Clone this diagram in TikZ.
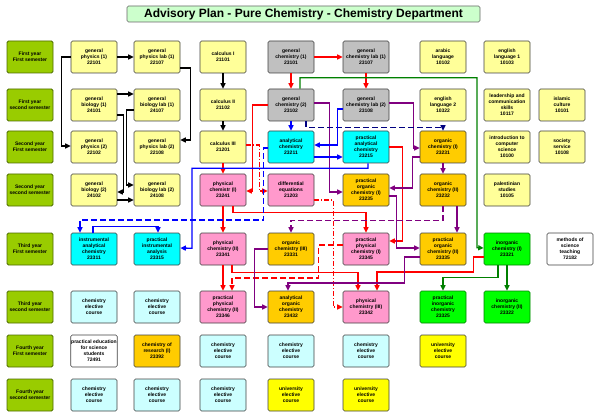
\documentclass[tikz,border=0pt]{standalone}
\usepackage{fontspec}
\setmainfont{Liberation Sans}
\usetikzlibrary{arrows.meta}
\definecolor{semgreen}{HTML}{99CC00}
\definecolor{semdark}{HTML}{4D6B00}
\definecolor{paleyellow}{HTML}{FFFF99}
\definecolor{chemgray}{HTML}{C0C0C0}
\definecolor{analcyan}{HTML}{00FFFF}
\definecolor{orgorange}{HTML}{FFCC00}
\definecolor{physpink}{HTML}{FF99CC}
\definecolor{inorggreen}{HTML}{00FF00}
\definecolor{eleccyan}{HTML}{CCFFFF}
\definecolor{univyellow}{HTML}{FFFF00}
\definecolor{titlegreen}{HTML}{CCFFCC}
\definecolor{linepurple}{HTML}{800080}
\definecolor{linenavy}{HTML}{000080}
\definecolor{lineblue}{HTML}{0000FF}
\definecolor{linegreen}{HTML}{008000}

\begin{document}
\begin{tikzpicture}[x=1pt,y=-1pt,>={Triangle[length=5.5pt,width=5pt]},
	box/.style={draw=black!75,line width=0.6pt,rounded corners=1.5pt,minimum width=46pt,minimum height=32pt,inner sep=0.5pt,align=center,font=\fontsize{5}{6}\selectfont\bfseries},
	sem/.style={box,fill=semgreen,draw=semdark,line width=0.9pt},
	genbox/.style={box,fill=paleyellow},
	chembox/.style={box,fill=chemgray},
	analbox/.style={box,fill=analcyan},
	orgbox/.style={box,fill=orgorange},
	physbox/.style={box,fill=physpink},
	inorgbox/.style={box,fill=inorggreen,draw=linegreen},
	elecbox/.style={box,fill=eleccyan},
	univbox/.style={box,fill=univyellow},
	plainbox/.style={box,fill=white},
	titlebox/.style={draw=black!60,line width=0.6pt,rounded corners=1.5pt,fill=titlegreen,minimum width=353pt,minimum height=16pt,inner sep=0pt,font=\fontsize{12}{12}\selectfont\bfseries},
	link/.style={->,line width=1.35pt},
	kline/.style={link,black},
	rline/.style={link,red},
	pline/.style={link,linepurple},
	bline/.style={link,lineblue},
	nline/.style={link,linenavy},
	gline/.style={link,linegreen},
	dashline/.style={dash pattern=on 6pt off 3pt},
	dotdash/.style={dash pattern=on 5pt off 2pt on 1pt off 2pt}]
\useasboundingbox (0,0) rectangle (600,417);
\node[titlebox] (title) at (303.5,14) {Advisory Plan - Pure Chemistry - Chemistry Department};
% semesters
\node[sem] (s1) at (30,57) {First year\\First semester};
\node[sem] (s2) at (30,105) {First year\\second semester};
\node[sem] (s3) at (30,147) {Second year\\First semester};
\node[sem] (s4) at (30,190) {Second year\\second semester};
\node[sem] (s5) at (30,249) {Third year\\First semester};
\node[sem] (s6) at (30,307) {Third year\\second semester};
\node[sem] (s7) at (30,351) {Fourth year\\First semester};
\node[sem] (s8) at (30,395) {Fourth year\\second semester};
% first year
\node[genbox] (phys1) at (94,57) {general\\physics (1)\\22101};
\node[genbox] (physlab1) at (157,57) {general\\physics lab (1)\\22107};
\node[genbox] (calc1) at (223,57) {calculus I\\21101};
\node[chembox] (chem1) at (291,57) {general\\chemistry (1)\\23101};
\node[chembox] (chemlab1) at (366,57) {general\\chemistry lab (1)\\23107};
\node[genbox] (arab) at (443,57) {arabic\\language\\10102};
\node[genbox] (eng1) at (507,57) {english\\language 1\\10103};
\node[genbox] (bio1) at (94,105) {general\\biology (1)\\24101};
\node[genbox] (biolab1) at (157,105) {general\\biology lab (1)\\24107};
\node[genbox] (calc2) at (223,105) {calculus II\\21102};
\node[chembox] (chem2) at (291,105) {general\\chemistry (2)\\23102};
\node[chembox] (chemlab2) at (366,105) {general\\chemistry lab (2)\\23108};
\node[genbox] (eng2) at (443,105) {english\\language 2\\10322};
\node[genbox] (lead) at (507,105) {leadership and\\communication\\skills\\10117};
\node[genbox] (islam) at (562,105) {islamic\\culture\\10101};
% second year
\node[genbox] (phys2) at (94,147) {general\\physics (2)\\22102};
\node[genbox] (physlab2) at (157,147) {general\\physics lab (2)\\22108};
\node[genbox] (calc3) at (223,147) {calculus III\\21201};
\node[analbox] (anal) at (291,147) {analytical\\chemistry\\23211};
\node[analbox] (pranal) at (366,147) {practical\\analytical\\chemistry\\23215};
\node[orgbox] (org1) at (443,147) {organic\\chemistry (I)\\23231};
\node[genbox] (comp) at (507,147) {introduction to\\computer\\science\\10100};
\node[genbox] (soc) at (562,147) {society\\service\\10108};
\node[genbox] (bio2) at (94,190) {general\\biology (2)\\24102};
\node[genbox] (biolab2) at (157,190) {general\\biology lab (2)\\24108};
\node[physbox] (pchem1) at (223,190) {physical\\chemistr (I)\\23241};
\node[physbox] (diffeq) at (291,190) {differential\\equations\\21203};
\node[orgbox] (prorg1) at (366,190) {practical\\organic\\chemistry (I)\\23235};
\node[orgbox] (org2) at (443,190) {organic\\chemistry (II)\\23232};
\node[genbox] (pal) at (507,190) {palestinian\\studies\\10105};
% third year
\node[analbox] (instr) at (94,249) {instrumental\\analytical\\chemistry\\23311};
\node[analbox] (pinstr) at (157,249) {practical\\instrumental\\analysis\\23315};
\node[physbox] (pchem2) at (223,249) {physical\\chemistry (II)\\23341};
\node[orgbox] (org3) at (291,249) {organic\\chemistry (III)\\23331};
\node[physbox] (ppchem1) at (366,249) {practical\\physical\\chemistry (I)\\23345};
\node[orgbox] (prorg2) at (443,249) {practical\\organic\\chemistry (II)\\23335};
\node[inorgbox] (inorg1) at (507,249) {inorganic\\chemistry (I)\\23321};
\node[plainbox] (teach) at (570,249) {methods of\\science\\teaching\\72182};
\node[elecbox] (elec1) at (94,307) {chemistry\\elective\\course};
\node[elecbox] (elec2) at (157,307) {chemistry\\elective\\course};
\node[physbox] (ppchem2) at (223,307) {practical\\physical\\chemistry (II)\\23346};
\node[orgbox] (anorg) at (291,307) {analytical\\organic\\chemistry\\23432};
\node[physbox] (pchem3) at (366,307) {physical\\chemistry (III)\\23342};
\node[inorgbox] (prinorg) at (443,307) {practical\\inorganic\\chemistry\\23325};
\node[inorgbox] (inorg2) at (507,307) {inorganic\\chemistry (II)\\23322};
% fourth year
\node[plainbox] (pedu) at (94,351) {practical education\\for science\\students\\72491};
\node[orgbox] (res) at (157,351) {chemistry of\\research (I)\\23392};
\node[elecbox] (elec3) at (223,351) {chemistry\\elective\\course};
\node[elecbox] (elec4) at (291,351) {chemistry\\elective\\course};
\node[elecbox] (elec5) at (366,351) {chemistry\\elective\\course};
\node[univbox] (univ1) at (443,351) {university\\elective\\course};
\node[elecbox] (elec6) at (94,395) {chemistry\\elective\\course};
\node[elecbox] (elec7) at (157,395) {chemistry\\elective\\course};
\node[elecbox] (elec8) at (223,395) {chemistry\\elective\\course};
\node[univbox] (univ2) at (291,395) {university\\elective\\course};
\node[univbox] (univ3) at (366,395) {university\\elective\\course};
% physics, biology, maths
\draw[kline] (phys1) -- (physlab1);
\draw[kline] (phys1.west) -- ++(-9,0) |- ([yshift=1pt]phys2.west);
\draw[kline] ([yshift=-11pt]physlab1.east) -- ++(10,0) |- ([yshift=7pt]physlab2.east);
\draw[kline] ([yshift=11pt]bio1.east) -- ([yshift=11pt]biolab1.west);
\draw[kline] ([yshift=-10pt]bio1.east) -- ++(6,0) |- ([yshift=-2pt]bio2.east);
\draw[kline] ([yshift=-5pt]biolab1.west) -- ++(-7,0) |- ([yshift=5pt]biolab2.west);
\draw[kline] ([yshift=-10pt]bio2.east) -- ([yshift=-10pt]biolab2.west);
\draw[kline] (calc1) -- (calc2);
\draw[kline] (calc2) -- (calc3);
% general and physical chemistry
\draw[rline] (chem1) -- (chemlab1);
\draw[rline] (chem1) -- (chem2);
\draw[rline] (chemlab1) -- (chemlab2);
\draw[rline] (chem2.west) -- ++(-15,0) |- ([yshift=-1pt]pchem1.east);
\draw[rline] (calc3) -- (pchem1);
\draw[rline,dotdash] ([yshift=2pt]calc3.east) -- ++(13,0) |- ([yshift=-1pt]diffeq.west);
\draw[rline] (pchem1) -- (pchem2);
\draw[rline] ([xshift=10pt]pchem1.south) -- ++(0,6) -| (ppchem1.north);
\draw[rline] (pchem2) -- (ppchem2);
\draw[rline] ([xshift=9pt]pchem2.south) -- ++(0,7) -| ([xshift=-8pt]pchem3.north);
\draw[rline,dashline] ([yshift=4pt]ppchem1.west) -| ++(-24,33) -| ([xshift=9pt]ppchem2.north);
\draw[rline,dotdash] ([yshift=-10pt]diffeq.east) -- ++(19,0) |- (pchem3.west);
\draw[rline] (pranal.east) -- ++(13,0) |- ([yshift=8pt]ppchem1.east);
\draw[rline] ([yshift=-8pt]inorg1.west) -| ++(-10,15) -| ([xshift=11pt]pchem3.north);
% organic
\draw[pline] ([yshift=2pt]chem2.east) -- ++(15,0) |- ([yshift=-2pt]prorg1.west);
\draw[pline] ([yshift=2pt]chemlab2.east) -- ++(24,0) |- ([yshift=-1pt]org1.west);
\draw[pline] ([yshift=-10pt]org1.west) -- ++(-7,0) |- ([yshift=2pt]prorg1.east);
\draw[pline] ([yshift=-6pt]prorg1.east) -- ++(7,0) |- ([yshift=1pt]prorg2.west);
\draw[pline] (org1) -- (org2);
\draw[pline] ([xshift=14pt]org2.south) -- ([xshift=14pt]prorg2.north);
\draw[pline,dashline] (org2.south) -- ++(0,14) -| (org3.north);
\draw[pline] ([yshift=-8pt]prorg2.west) -| ++(-15,26) -| ([xshift=-3pt]anorg.north);
\draw[pline] (org3.west) -- ++(-13,0) |- (anorg.west);
\draw[nline,dashline] ([xshift=15pt]chem2.south) -- ++(0,6) -| (org1.north);
% analytical
\draw[bline] (chem2) -- (anal);
\draw[bline] ([yshift=-4pt]chemlab2.west) -- ++(-5,0) |- ([yshift=2pt]anal.east);
\draw[bline] ([yshift=-10pt]anal.east) -- ([yshift=-10pt]pranal.west);
\draw[bline] ([xshift=2pt]pranal.south) -- ++(0,5) -| ++(-176,80) -- ([yshift=1pt]pinstr.east);
\draw[bline,dashline] ([yshift=-1pt]anal.west) -- ++(-4,0) -- ++(0,72) -| ([xshift=-14pt]instr.north);
\draw[bline] ([xshift=-1pt]instr.north) -- ++(0,-6) -| ([xshift=1pt]pinstr.north);
% inorganic
\draw[gline] ([xshift=9pt]chem2.north) -- ++(0,-11) -| ++(177,170) -- ([yshift=1pt]inorg1.west);
\draw[gline] ([xshift=-9pt]inorg1.south) -- ++(0,12) -| (prinorg.north);
\draw[gline] (inorg1) -- (inorg2);
\end{tikzpicture}
\end{document}
